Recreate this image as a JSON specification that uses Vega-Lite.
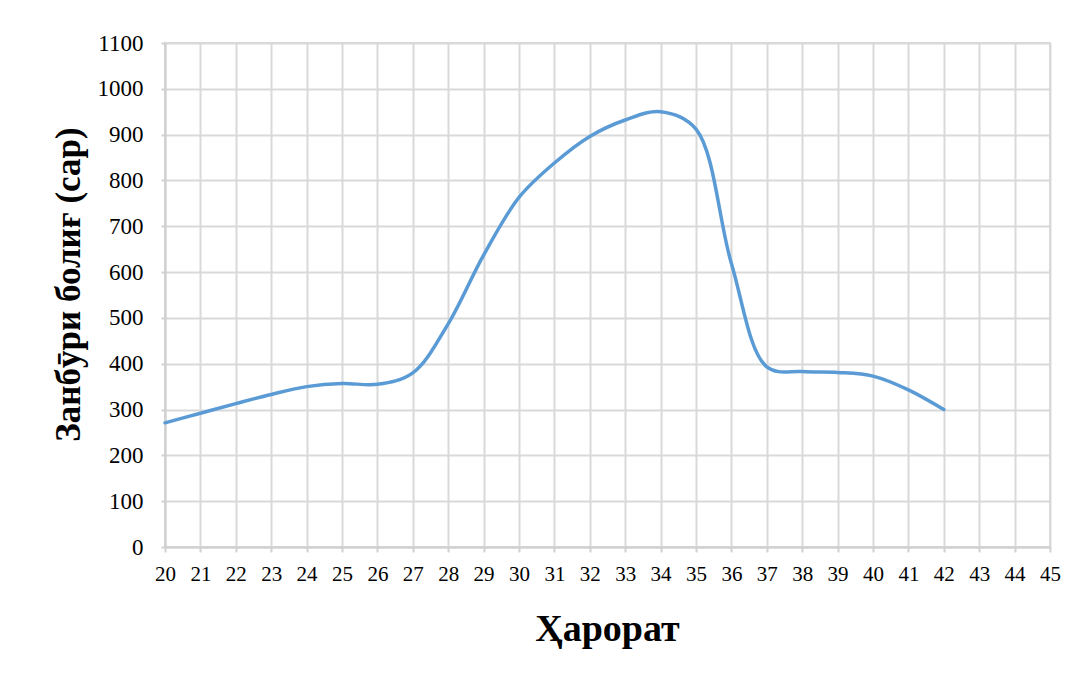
{
  "$schema": "https://vega.github.io/schema/vega-lite/v6.json",
  "autosize": {"type": "none"},
  "padding": {"left": 165, "top": 43, "right": 36, "bottom": 128},
  "width": 885,
  "height": 504,
  "background": "white",
  "data": {
    "values": [
      {"t": 20, "n": 271},
      {"t": 21, "n": 292},
      {"t": 22, "n": 313},
      {"t": 23, "n": 333},
      {"t": 24, "n": 350},
      {"t": 25, "n": 357},
      {"t": 26, "n": 355},
      {"t": 27, "n": 380},
      {"t": 28, "n": 487},
      {"t": 29, "n": 637},
      {"t": 30, "n": 763},
      {"t": 31, "n": 838},
      {"t": 32, "n": 896},
      {"t": 33, "n": 932},
      {"t": 34, "n": 950},
      {"t": 35, "n": 912},
      {"t": 36, "n": 619},
      {"t": 37, "n": 393},
      {"t": 38, "n": 383},
      {"t": 39, "n": 381},
      {"t": 40, "n": 373},
      {"t": 41, "n": 343},
      {"t": 42, "n": 300}
    ]
  },
  "mark": {"type": "line", "interpolate": "catmull-rom", "color": "#5b9bd5", "strokeWidth": 3.5, "strokeCap": "round"},
  "encoding": {
    "x": {
      "field": "t",
      "type": "quantitative",
      "scale": {"domain": [20, 45], "nice": false, "zero": false},
      "axis": {
        "values": [20,21,22,23,24,25,26,27,28,29,30,31,32,33,34,35,36,37,38,39,40,41,42,43,44,45],
        "format": "d",
        "title": "Ҳарорат",
        "titleFont": "Liberation Serif",
        "titleFontSize": 38,
        "titleFontWeight": "bold",
        "titleColor": "#000000",
        "titleX": 442,
        "titleY": 93,
        "titleAnchor": "middle",
        "titleBaseline": "alphabetic",
        "labelFont": "Liberation Serif",
        "labelFontSize": 21,
        "labelColor": "#000000",
        "labelPadding": 11,
        "labelFlush": false,
        "labelOverlap": false,
        "grid": true,
        "gridColor": "#d9d9d9",
        "gridWidth": 2,
        "domainColor": "#d0d0d0",
        "domainWidth": 2,
        "tickColor": "#d0d0d0",
        "tickSize": 5,
        "tickWidth": 2
      }
    },
    "y": {
      "field": "n",
      "type": "quantitative",
      "scale": {"domain": [0, 1100], "nice": false},
      "axis": {
        "values": [0,100,200,300,400,500,600,700,800,900,1000,1100],
        "format": "d",
        "title": "Занбӯри болиғ (сар)",
        "titleFont": "Liberation Serif",
        "titleFontSize": 35,
        "titleFontWeight": "bold",
        "titleColor": "#000000",
        "titleX": -97,
        "titleY": 241,
        "titleAngle": -90,
        "titleAnchor": "middle",
        "titleBaseline": "middle",
        "labelFont": "Liberation Serif",
        "labelFontSize": 23,
        "labelColor": "#000000",
        "labelPadding": 18,
        "labelFlush": false,
        "labelOverlap": false,
        "grid": true,
        "gridColor": "#d9d9d9",
        "gridWidth": 2,
        "domainColor": "#d0d0d0",
        "domainWidth": 2,
        "tickColor": "#d0d0d0",
        "tickSize": 4,
        "tickWidth": 2
      }
    }
  },
  "config": {
    "view": {"stroke": "#d9d9d9", "strokeWidth": 2}
  }
}
